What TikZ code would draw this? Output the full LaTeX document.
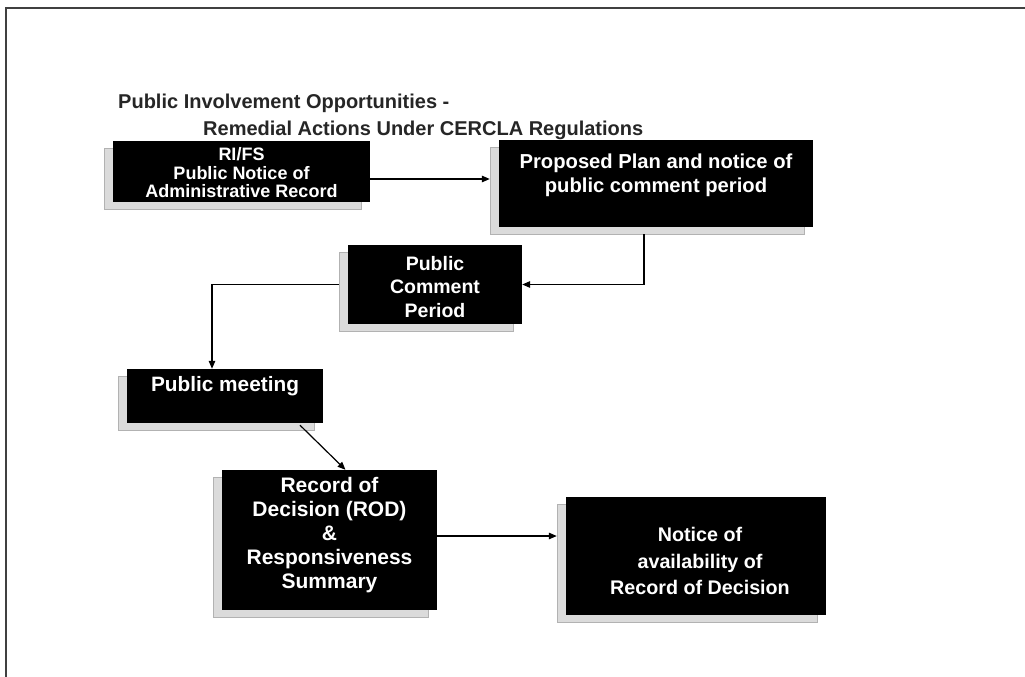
\documentclass[tikz,border=0pt]{standalone}
\usepackage{fontspec}
\setmainfont{Liberation Sans}
\usetikzlibrary{arrows.meta,shadows,calc}
\begin{document}
\begin{tikzpicture}[x=1pt,y=-1pt,
  box/.style={fill=black, inner sep=0pt,
    general shadow={fill=gray!28, draw=gray!60, line width=0.6pt,
      shadow xshift=-9pt, shadow yshift=-7pt}},
  txt/.style={text=white, font=\bfseries\fontsize{19.5}{23.5}\selectfont, align=center, inner sep=0pt},
  titletxt/.style={text=black!85, font=\bfseries\fontsize{20}{24}\selectfont, inner sep=0pt, anchor=base west},
  arr/.style={draw=black, line width=1.2pt, -{Triangle[length=8pt,width=6.5pt]}},
  frameline/.style={draw=black!75, line width=2pt}]
\useasboundingbox (0,0) rectangle (1025,677);
\fill[white] (0,0) rectangle (1025,677);
% frame
\draw[frameline] (5,8) -- (1025,8);
\draw[frameline] (6,8) -- (6,677);
% title
\node[titletxt] (title1) at (118,108) {Public Involvement Opportunities -};
\node[titletxt] (title2) at (203,135) {Remedial Actions Under CERCLA Regulations};
% boxes
\node[box, minimum width=257pt, minimum height=61pt] (b1) at (241.5,171.5) {};
\node[txt, font=\bfseries\fontsize{18}{18.5}\selectfont] (t1) at (241.5,173) {RI/FS\\Public Notice of\\Administrative Record};
\node[box, minimum width=314pt, minimum height=87pt] (b2) at (656,183.5) {};
\node[txt, font=\bfseries\fontsize{20.2}{24}\selectfont] (t2) at (656,175) {Proposed Plan and notice of\\public comment period};
\node[box, minimum width=174pt, minimum height=79pt] (b3) at (435,284.5) {};
\node[txt] (t3) at (435,287) {Public\\Comment\\Period};
\node[box, minimum width=196pt, minimum height=54pt] (b4) at (225,396) {};
\node[txt, font=\bfseries\fontsize{20.8}{24}\selectfont] (t4) at (225,386) {Public meeting};
\node[box, minimum width=215pt, minimum height=140pt] (b5) at (329.5,540) {};
\node[txt, font=\bfseries\fontsize{21}{24}\selectfont] (t5) at (329.5,535) {Record of\\Decision (ROD)\\\&\\Responsiveness\\Summary};
\node[box, minimum width=260pt, minimum height=118pt] (b6) at (696,556) {};
\node[txt, font=\bfseries\fontsize{19.7}{26.5}\selectfont] (t6) at (700,561) {Notice of\\availability of\\Record of Decision};
% connectors
\draw[arr] ($(b1.east)+(0,7.5)$) -- ($(b1.east -| b2.west)+(-9,7.5)$);
\draw[arr] ($(b2.south)+(-12,7)$) |- (b3.east);
\draw[arr] ($(b3.west)+(-9,0)$) -| ($(b4.north)+(-13,0)$);
\draw[arr] ($(b4.south)+(75,2)$) -- ($(b5.north)+(16,0)$);
\draw[arr] ($(b5.east)+(0,-4)$) -- ($(b5.east -| b6.west)+(-9,-4)$);
\end{tikzpicture}
\end{document}
